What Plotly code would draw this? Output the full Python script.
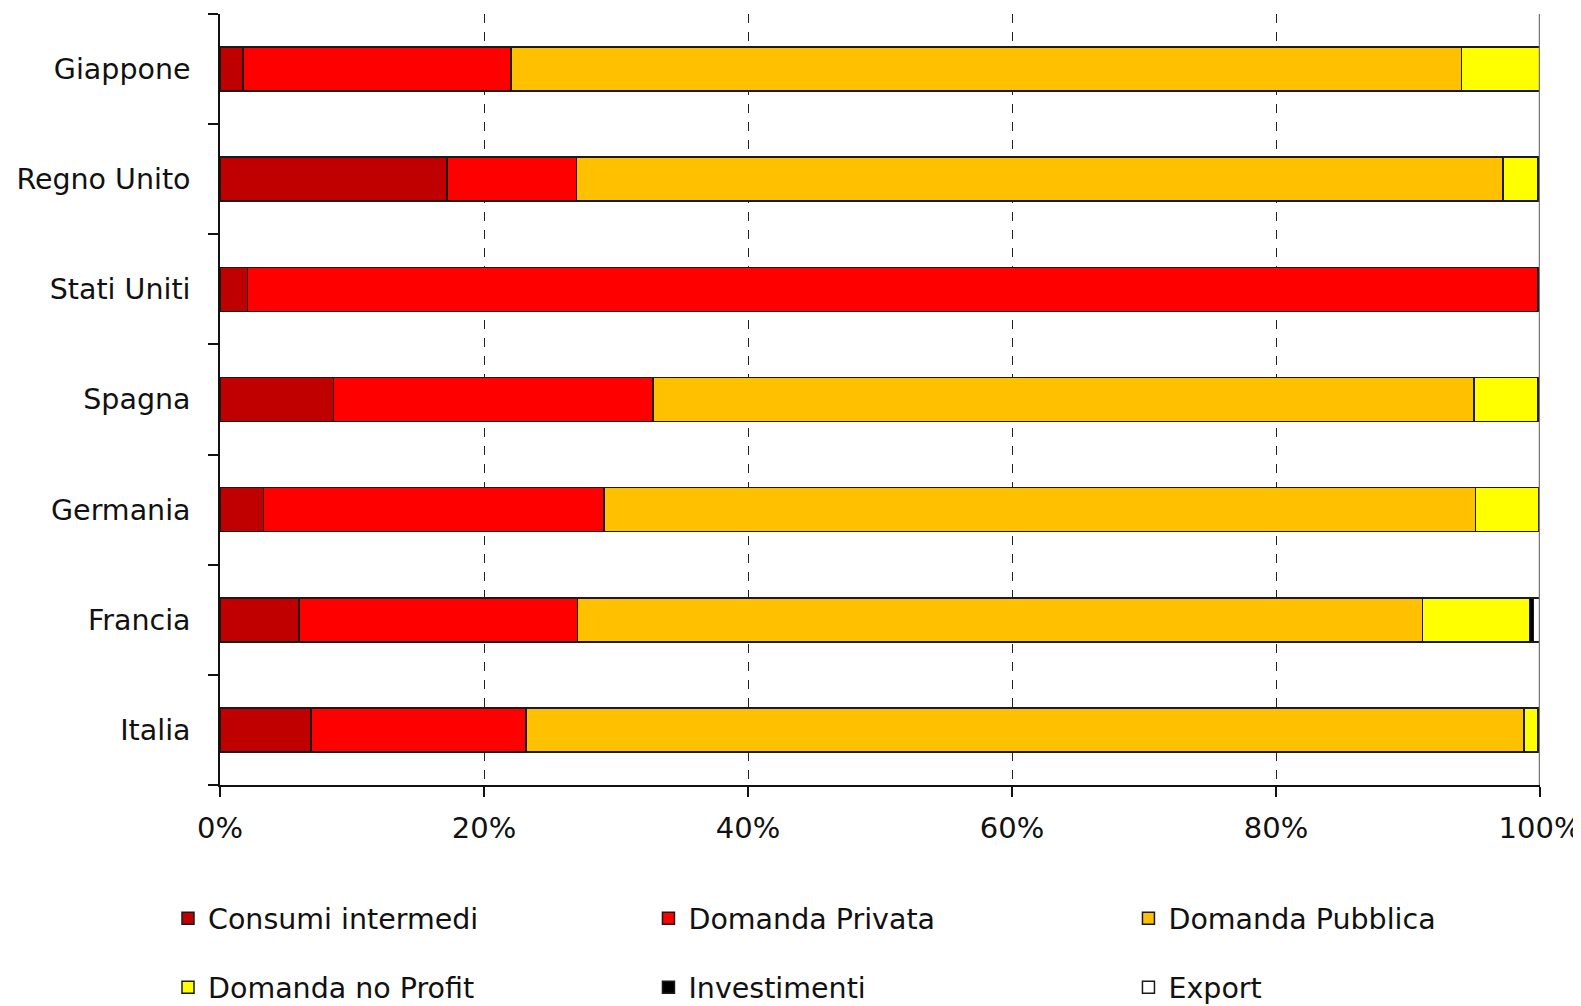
import plotly.graph_objects as go

countries = ["Italia", "Francia", "Germania", "Spagna", "Stati Uniti", "Regno Unito", "Giappone"]
series_names = ["Consumi intermedi", "Domanda Privata", "Domanda Pubblica",
                "Domanda no Profit", "Investimenti", "Export"]
consumi_intermedi = [6.9, 6.0, 3.3, 8.6, 2.1, 17.2, 1.75]
domanda_privata = [16.3, 21.1, 25.8, 24.2, 97.7, 9.8, 20.3]
domanda_pubblica = [75.6, 64.0, 66.0, 62.2, 0.0, 70.2, 72.0]
domanda_no_profit = [1.0, 8.1, 4.8, 4.8, 0.0, 2.6, 5.95]
investimenti = [0.2, 0.3, 0.1, 0.2, 0.2, 0.2, 0.0]
export = [0.0, 0.5, 0.0, 0.0, 0.0, 0.0, 0.0]
colors = ["#C00000", "#FF0000", "#FFC000", "#FFFF00", "#000000", "#FFFFFF"]
x_ticks = [0, 20, 40, 60, 80, 100]
x_tick_labels = ["0%", "20%", "40%", "60%", "80%", "100%"]

all_series = [consumi_intermedi, domanda_privata, domanda_pubblica,
              domanda_no_profit, investimenti, export]
# legend column for each series (3 columns x 2 rows, filled row by row)
legend_ids = ["legend", "legend2", "legend3", "legend", "legend2", "legend3"]

fig = go.Figure()
for i, (name, vals, col) in enumerate(zip(series_names, all_series, colors)):
    fig.add_trace(go.Bar(
        y=countries, x=vals, name=name, orientation="h",
        legend=legend_ids[i], legendgroup="g%d" % i,
        marker=dict(color=col, line=dict(color="#1a1a1a", width=1.5)),
    ))

font_family = "DejaVu Sans, Verdana, sans-serif"
leg_common = dict(
    orientation="v", xref="container", yref="container",
    xanchor="left", yanchor="top", y=0.120,
    font=dict(size=28.5, family=font_family, color="#111111"),
    traceorder="grouped", tracegroupgap=29, bgcolor="rgba(0,0,0,0)",
)
fig.update_layout(
    barmode="stack",
    bargap=0.6,
    width=1581, height=1006,
    margin=dict(l=212, r=49, t=6, b=229, autoexpand=False),
    plot_bgcolor="white", paper_bgcolor="white",
    font=dict(family=font_family, size=28.5, color="#111111"),
    showlegend=True,
    legend=dict(x=0.1012, **leg_common),
    legend2=dict(x=0.4051, **leg_common),
    legend3=dict(x=0.7087, **leg_common),
    xaxis=dict(
        range=[0, 100], tickvals=x_ticks, ticktext=x_tick_labels,
        showgrid=True, gridcolor="#222222", griddash="dash", gridwidth=1,
        showline=True, linecolor="#111111", linewidth=1.5,
        ticks="outside", ticklen=10, tickcolor="#111111", tickwidth=1.5,
        zeroline=False, tickfont=dict(size=29), ticklabelstandoff=6,
        ticklabeloverflow="allow", automargin=False,
    ),
    yaxis=dict(
        categoryorder="array", categoryarray=countries,
        showline=True, linecolor="#111111", linewidth=1.5,
        ticks="outside", tickson="boundaries", ticklen=10, tickcolor="#111111",
        tickwidth=1.5, showgrid=False, tickfont=dict(size=28.5),
        ticklabelstandoff=22, automargin=False,
    ),
)
fig.add_shape(type="line", xref="x", yref="paper", x0=100, x1=100, y0=0, y1=1,
              line=dict(color="#777777", width=2.5))

fig.write_html("out.html")
